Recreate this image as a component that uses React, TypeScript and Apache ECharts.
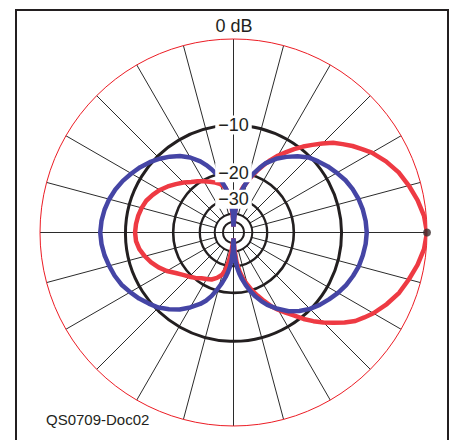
import React, { useEffect, useRef } from "react";
import * as echarts from "echarts";

// Angles in degrees, clockwise from top (0 = up). Values in dB (ARRL log scale).
const blueAngles = [0, 2, 4, 6, 8, 10, 13, 16, 19, 22, 25, 30, 35, 40, 45, 50, 55, 60, 65, 70, 75, 80, 85, 90,
  95, 100, 105, 110, 115, 120, 125, 130, 135, 140, 145, 150, 155, 158, 161, 164, 167, 170, 172, 174, 176, 178, 180,
  182, 184, 186, 188, 190, 193, 196, 199, 202, 205, 210, 215, 220, 225, 230, 235, 240, 245, 250, 255, 260, 265, 270,
  275, 280, 285, 290, 295, 300, 305, 310, 315, 320, 325, 330, 335, 338, 341, 344, 347, 350, 352, 354, 356, 358, 360];
const blueDb = [-60, -48, -40, -34, -30, -27, -24, -21.3, -19.3, -17.5, -15.9, -14.1, -12.7, -11.4, -10.3, -9.6, -8.9, -8.3, -7.7, -7.25, -6.9, -6.65, -6.48, -6.4,
  -6.48, -6.65, -6.85, -7.2, -7.6, -8.1, -8.7, -9.3, -10.0, -10.9, -12.0, -13.5, -15.2, -16.5, -18.0, -19.8, -22.0, -24.5, -26.5, -29, -33, -40, -60,
  -40, -33, -29.5, -27, -25, -22.5, -20.3, -18.2, -16.6, -15.4, -13.8, -12.4, -11.3, -10.3, -9.6, -8.9, -8.3, -7.7, -7.3, -7.0, -6.7, -6.5, -6.4,
  -6.5, -6.7, -7.0, -7.4, -7.9, -8.5, -9.1, -9.8, -10.6, -11.5, -12.5, -13.8, -15.5, -16.8, -18.3, -20.0, -22.3, -25, -27, -30, -34, -41, -60];

const redAngles = [0, 3, 6, 9, 12, 15, 18, 21, 24, 27, 30, 33, 36, 39, 42, 45, 48, 51, 54, 57, 60, 65, 70, 75, 80, 85, 90,
  95, 100, 105, 110, 115, 120, 123, 126, 129, 132, 135, 138, 141, 144, 147, 150, 153, 156, 159, 162, 165, 168, 171, 174, 177, 180,
  183, 186, 189, 192, 195, 200, 205, 210, 215, 220, 225, 230, 235, 240, 245, 250, 255, 260, 265, 270,
  275, 280, 285, 290, 295, 300, 305, 310, 315, 320, 325, 330, 335, 340, 345, 350, 353, 356, 358, 360];
const redDb = [-60, -42, -32, -27, -24.5, -22.5, -20.3, -18.4, -16.6, -14.9, -13.4, -12.1, -10.8, -9.6, -8.5, -7.4, -6.3, -5.5, -4.7, -4.0, -3.3, -2.4, -1.65, -1.1, -0.6, -0.2, 0,
  -0.2, -0.6, -1.1, -1.6, -2.3, -3.1, -3.7, -4.3, -5.2, -6.2, -7.2, -8.3, -9.5, -10.9, -12.1, -13.3, -14.6, -16.3, -18.0, -19.7, -21.8, -24, -27, -32, -42, -60,
  -50, -42, -33, -28, -25.5, -23.8, -22.6, -22, -21.3, -20.3, -19.4, -18.5, -17.3, -15.8, -14.6, -13.6, -12.8, -12.1, -11.7, -11.6,
  -11.7, -11.9, -12.2, -12.6, -13.3, -14.1, -15.1, -16.2, -17.3, -18.5, -19.4, -20.3, -21.3, -22.2, -23.2, -25, -28, -35, -45, -60];

const ringDb = [-10, -20, -30, -40, -50];
const ringLabels = ["\u221210", "\u221220", "\u221230"];
const topLabel = "0 dB";
const markerDb = 0;
const markerAngle = 90;
const footnote = "QS0709-Doc02";

// ARRL log-periodic radius scale: each 2 dB = 0.89 of the radius
const toR = (db: number) => Math.pow(0.89, -db / 2);

const FONT = '"Liberation Sans", Arial, Helvetica, sans-serif';
const INK = "#231f20";

export default function App() {
  const ref = useRef<HTMLDivElement>(null);
  useEffect(() => {
    document.body.style.overflow = "hidden";
    const chart = echarts.init(ref.current!, undefined, { renderer: "svg" });
    const ringWidths = [3, 2.6, 2.3, 2, 2];
    chart.setOption({
      animation: false,
      polar: { center: [233.5, 232.5], radius: 193.5 },
      angleAxis: {
        type: "value", min: 0, max: 360, interval: 15, startAngle: 90, clockwise: true,
        axisLine: { show: true, lineStyle: { color: "#ec1c24", width: 1 } },
        axisTick: { show: false }, axisLabel: { show: false },
        splitLine: { show: true, lineStyle: { color: "#2b2b2b", width: 1 } },
      },
      radiusAxis: {
        type: "value", min: 0, max: 1,
        axisLine: { show: false }, axisTick: { show: false }, axisLabel: { show: false }, splitLine: { show: false },
      },
      graphic: [
        { type: "text", left: 46, top: 412, style: { text: footnote, font: `15px ${FONT}`, fill: INK } },
      ],
      series: [
        {
          type: "custom", coordinateSystem: "polar", silent: true, z: 1, data: [[0, 0]],
          renderItem: (params: any, api: any) => {
            const cx = params.coordSys.cx, cy = params.coordSys.cy;
            const rad = (db: number) => { const p = api.coord([toR(db), 0]); return Math.hypot(p[0] - cx, p[1] - cy); };
            const r40 = rad(-40);
            const children: any[] = [
              { type: "circle", shape: { cx, cy, r: r40 - 1 }, style: { fill: "#fff" } },
              { type: "line", shape: { x1: cx - r40, y1: cy, x2: cx + r40, y2: cy }, style: { stroke: "#2b2b2b", lineWidth: 1 } },
              { type: "line", shape: { x1: cx, y1: cy - r40, x2: cx, y2: cy + r40 }, style: { stroke: "#2b2b2b", lineWidth: 1 } },
            ];
            ringDb.forEach((db, i) => {
              children.push({ type: "circle", shape: { cx, cy, r: rad(db) }, style: { fill: "none", stroke: INK, lineWidth: ringWidths[i] } });
            });
            return { type: "group", children };
          },
        },
        {
          type: "line", coordinateSystem: "polar", z: 2, showSymbol: false, silent: true,
          data: redAngles.map((a, i) => [toR(redDb[i]), a]),
          lineStyle: { color: "#ee3a43", width: 4.5 },
        },
        {
          type: "line", coordinateSystem: "polar", z: 2, showSymbol: false, silent: true,
          data: blueAngles.map((a, i) => [toR(blueDb[i]), a]),
          lineStyle: { color: "#4545a5", width: 4.5 },
        },
        {
          type: "scatter", coordinateSystem: "polar", z: 3, silent: true,
          data: [[toR(markerDb), markerAngle]], symbolSize: 8,
          itemStyle: { color: "#3a2a2c" },
        },
        {
          type: "custom", coordinateSystem: "polar", silent: true, z: 4, data: [[0, 0]],
          renderItem: (params: any, api: any) => {
            const children: any[] = [];
            ringLabels.forEach((t, i) => {
              const p = api.coord([toR(ringDb[i]), 0]);
              children.push({
                type: "text", x: p[0], y: p[1] + 0.5,
                style: { text: t, font: `18px ${FONT}`, fill: INK, align: "center", verticalAlign: "middle", backgroundColor: "#fff", padding: [1, 3, 0, 3] },
              });
            });
            const p0 = api.coord([toR(0), 0]);
            children.push({
              type: "text", x: p0[0] + 0.5, y: p0[1] - 13,
              style: { text: topLabel, font: `18px ${FONT}`, fill: INK, align: "center", verticalAlign: "middle" },
            });
            return { type: "group", children };
          },
        },
      ],
    });
    return () => chart.dispose();
  }, []);
  return (
    <div style={{ position: "absolute", left: 0, top: 0, width: 454, height: 440, background: "#fff", overflow: "hidden" }}>
      <div ref={ref} style={{ position: "absolute", left: 0, top: 0, width: 454, height: 440 }} />
      <div style={{ position: "absolute", left: 15, top: 9, width: 434, height: 431, boxSizing: "border-box", borderLeft: `2px solid ${INK}`, borderTop: `2px solid ${INK}`, borderRight: `2px solid ${INK}`, pointerEvents: "none" }} />
    </div>
  );
}
